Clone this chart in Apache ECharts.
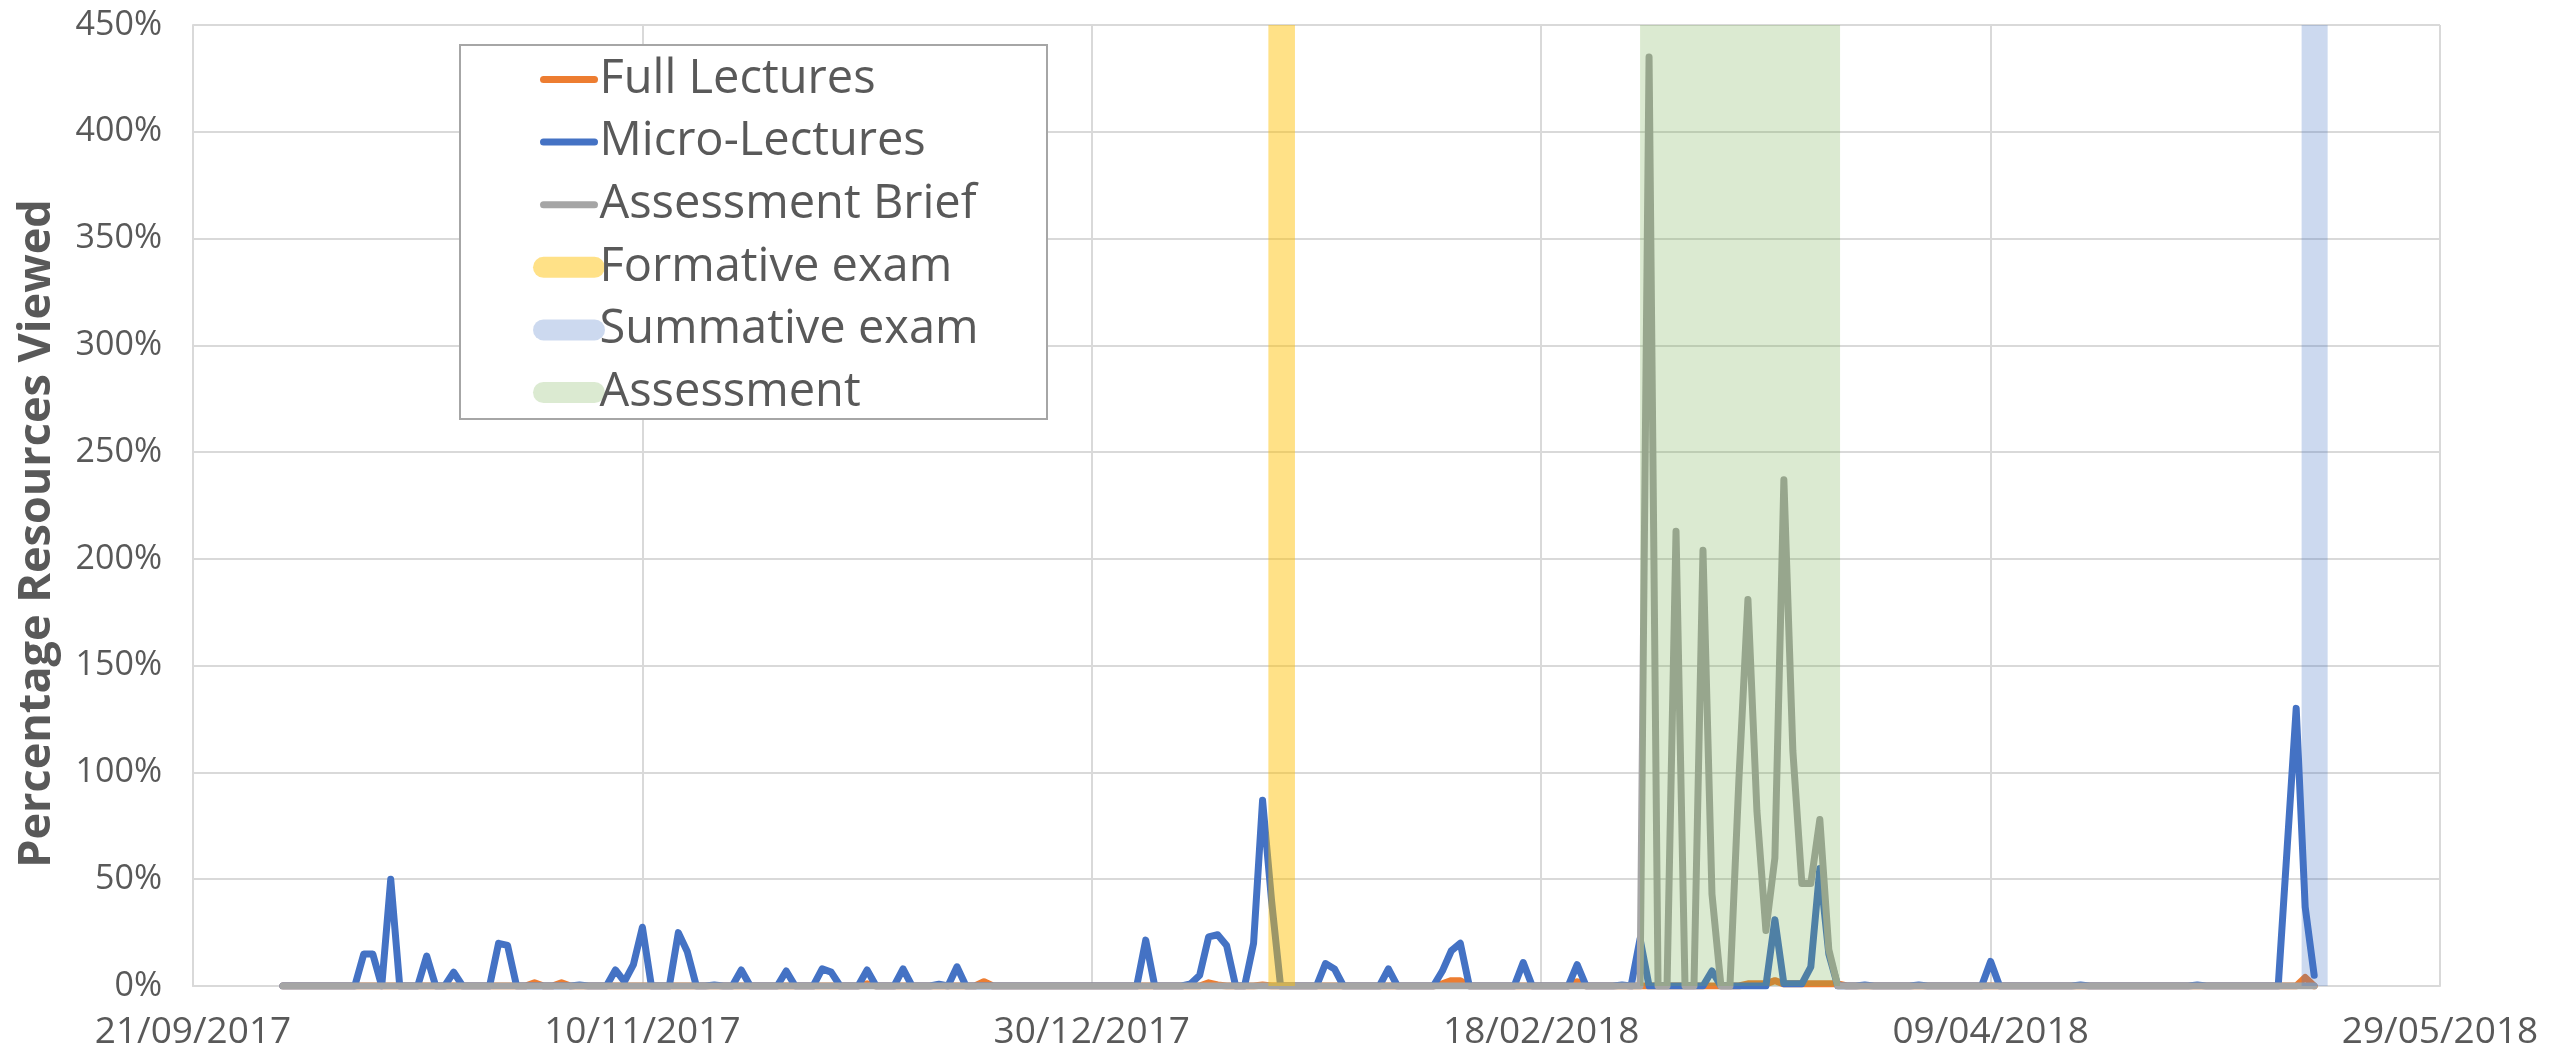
<!DOCTYPE html>
<html>
<head>
<meta charset="utf-8">
<script src="https://cdn.jsdelivr.net/npm/echarts@6.0.0/dist/echarts.min.js"></script>
<style>
  html, body { margin: 0; padding: 0; background: #fff; }
  #main { width: 2571px; height: 1053px; }
</style>
</head>
<body>
<div id="main"></div>
<script>
// axis runs from 21/09/2017, ticks every 50 days
var axisStart = '2017-09-21';
var axisDays = 250;

// Full Lectures (only the turning points, the line sits on 0 in between)
var fullDates = ['2017-10-01','2017-10-28','2017-10-29','2017-10-30','2017-10-31','2017-11-01','2017-11-02',
  '2017-12-04','2017-12-05','2017-12-06','2017-12-17','2017-12-18','2017-12-19',
  '2018-01-11','2018-01-12','2018-01-13','2018-01-14','2018-01-17','2018-01-18','2018-01-19',
  '2018-02-06','2018-02-07','2018-02-08','2018-02-09','2018-02-10','2018-02-21','2018-02-22','2018-02-23',
  '2018-03-12','2018-03-13','2018-03-14','2018-03-15','2018-03-16','2018-03-17','2018-03-18','2018-03-19',
  '2018-03-20','2018-03-21','2018-03-22','2018-03-23','2018-03-24','2018-05-13','2018-05-14','2018-05-15'];
var fullValues = [0,0,1.5,0,0,1.5,0,
  0,1,0,0,2,0,
  0,1.5,0.5,0,0,0.5,0,
  0,1,2.5,2.5,0,0,2,0,
  0,1,1,1,2.5,1,1,1,
  1,1,1,1,0,0,4,0];

// Micro-Lectures
var microDates = ['2017-10-01','2017-10-09','2017-10-10','2017-10-11','2017-10-12','2017-10-13','2017-10-14',
  '2017-10-16','2017-10-17','2017-10-18','2017-10-19','2017-10-20','2017-10-21','2017-10-24','2017-10-25',
  '2017-10-26','2017-10-27','2017-11-02','2017-11-03','2017-11-04','2017-11-06','2017-11-07','2017-11-08',
  '2017-11-09','2017-11-10','2017-11-11','2017-11-13','2017-11-14','2017-11-15','2017-11-16','2017-11-17',
  '2017-11-18','2017-11-19','2017-11-20','2017-11-21','2017-11-22','2017-11-25','2017-11-26','2017-11-27',
  '2017-11-29','2017-11-30','2017-12-01','2017-12-02','2017-12-04','2017-12-05','2017-12-06','2017-12-08',
  '2017-12-09','2017-12-10','2017-12-12','2017-12-13','2017-12-14','2017-12-15','2017-12-16',
  '2018-01-04','2018-01-05','2018-01-06','2018-01-09','2018-01-10','2018-01-11','2018-01-12','2018-01-13',
  '2018-01-14','2018-01-15','2018-01-16','2018-01-17','2018-01-18','2018-01-19','2018-01-20','2018-01-24',
  '2018-01-25','2018-01-26','2018-01-27','2018-01-31','2018-02-01','2018-02-02','2018-02-06','2018-02-07',
  '2018-02-08','2018-02-09','2018-02-10','2018-02-15','2018-02-16','2018-02-17','2018-02-21','2018-02-22',
  '2018-02-23','2018-02-26','2018-02-27','2018-02-28','2018-03-01','2018-03-02','2018-03-08','2018-03-09',
  '2018-03-10','2018-03-15','2018-03-16','2018-03-17','2018-03-18','2018-03-19','2018-03-20','2018-03-21',
  '2018-03-22','2018-03-23','2018-03-25','2018-03-26','2018-03-27','2018-03-31','2018-04-01','2018-04-02',
  '2018-04-08','2018-04-09','2018-04-10','2018-04-18','2018-04-19','2018-04-20','2018-05-01','2018-05-02',
  '2018-05-03','2018-05-11','2018-05-12','2018-05-13','2018-05-14','2018-05-15'];
var microValues = [0,0,15,15,0,50,0,
  0,14,0,0,6.5,0,0,20,
  19,0,0,0.5,0,0,7.5,2,
  10,27.5,0,0,25,16,0,0,
  0.5,0,0,7.5,0,0,7,0,
  0,8,6.5,0,0,7.5,0,0,
  8,0,0,0.8,0,9,0,
  0,21.5,0,0,1,5,23,24,
  19,0,0,20,87,40,0,0,
  10.5,8,0,0,8,0,0,7,
  16.5,20,0,0,11,0,0,10,
  0,0,0.5,0,22,0,0,7,
  0,0,31,1,1,1,9,55,
  15,0,0,0.5,0,0,0.5,0,
  0,11.5,0,0,0.5,0,0,0.5,
  0,0,65,130,37,5];

// Assessment Brief
var briefDates = ['2017-10-01','2018-03-01','2018-03-02','2018-03-03','2018-03-04','2018-03-05','2018-03-06',
  '2018-03-07','2018-03-08','2018-03-09','2018-03-10','2018-03-11','2018-03-12','2018-03-13','2018-03-14',
  '2018-03-15','2018-03-16','2018-03-17','2018-03-18','2018-03-19','2018-03-20','2018-03-21','2018-03-22',
  '2018-03-23','2018-05-15'];
var briefValues = [0,0,435,0,0,213,0,
  0,204,43,0,0,97,181,82,
  26,60,237,110,48,48,78,17,
  0,0];

// shaded periods
var formativeExam = ['2018-01-18 15:30', '2018-01-21 14:30'];
var summativeExam = ['2018-05-13 14:30', '2018-05-16 12:00'];
var assessment = ['2018-03-01 00:00', '2018-03-23 06:00'];

var FONT = "'Open Sans', sans-serif";
var TEXT = '#595959';
var GRID = '#d9d9d9';

var t0 = toUTC(axisStart);
function toUTC(s) {
  var p = s.split(' ');
  var d = p[0].split('-').map(Number);
  var t = p[1] ? p[1].split(':').map(Number) : [0, 0];
  return Date.UTC(d[0], d[1] - 1, d[2], t[0], t[1]);
}
function dayOf(s) { return (toUTC(s) - t0) / 86400000; }
function pairs(dates, values) {
  return dates.map(function (d, i) { return [dayOf(d), values[i]]; });
}
function pad(n) { return n < 10 ? '0' + n : '' + n; }

function dataLine(name, color, dates, values) {
  return {
    name: name, type: 'line', color: color,
    data: pairs(dates, values),
    symbol: 'none', showSymbol: false,
    lineStyle: { width: 7, color: color, cap: 'round', join: 'round' },
    silent: true
  };
}
function band(name, color, period) {
  return {
    name: name, type: 'line', color: color, data: [],
    symbol: 'none',
    lineStyle: { width: 6, color: color },
    markArea: {
      silent: true, z: 10,
      itemStyle: { color: color },
      data: [[{ xAxis: dayOf(period[0]) }, { xAxis: dayOf(period[1]) }]]
    }
  };
}

var chart = echarts.init(document.getElementById('main'));
chart.setOption({
  animation: false,
  backgroundColor: '#fff',
  grid: { left: 193, right: 131, top: 25, bottom: 67 },
  xAxis: {
    type: 'value', min: 0, max: axisDays, interval: 50,
    axisLine: { lineStyle: { color: GRID, width: 2 } },
    axisTick: { show: false },
    splitLine: { lineStyle: { color: GRID, width: 2 } },
    axisLabel: {
      color: TEXT, fontFamily: FONT, fontSize: 37, margin: 28,
      formatter: function (v) {
        var d = new Date(t0 + v * 86400000);
        return pad(d.getUTCDate()) + '/' + pad(d.getUTCMonth() + 1) + '/' + d.getUTCFullYear();
      }
    }
  },
  yAxis: {
    type: 'value', min: 0, max: 450, interval: 50,
    name: 'Percentage Resources Viewed', nameLocation: 'middle', nameGap: 133,
    nameTextStyle: { color: TEXT, fontFamily: FONT, fontSize: 45, fontWeight: 'bold', padding: [0, 56, 0, 0] },
    axisLine: { show: true, lineStyle: { color: GRID, width: 2 } },
    axisTick: { show: false },
    splitLine: { lineStyle: { color: GRID, width: 2 } },
    axisLabel: { color: TEXT, fontFamily: FONT, fontSize: 34, margin: 31, formatter: '{value}%' }
  },
  graphic: [{
    type: 'rect', left: 459, top: 44, z: 3,
    shape: { width: 587, height: 374 },
    style: { fill: '#fff', stroke: '#a6a6a6', lineWidth: 2 }
  }],
  legend: {
    orient: 'vertical', left: 528, top: 51, z: 5,
    itemWidth: 51, itemHeight: 2, itemGap: 15.6,
    selectedMode: false,
    itemStyle: { opacity: 0 },
    textStyle: { color: TEXT, fontFamily: FONT, fontSize: 47, lineHeight: 46 },
    data: [
      { name: 'Full Lectures', lineStyle: { width: 7, cap: 'round' } },
      { name: 'Micro-Lectures', lineStyle: { width: 7, cap: 'round' } },
      { name: 'Assessment Brief', lineStyle: { width: 7, cap: 'round' } },
      { name: 'Formative exam', lineStyle: { width: 21, cap: 'round' } },
      { name: 'Summative exam', lineStyle: { width: 21, cap: 'round' } },
      { name: 'Assessment', lineStyle: { width: 21, cap: 'round' } }
    ]
  },
  series: [
    dataLine('Full Lectures', '#ed7d31', fullDates, fullValues),
    dataLine('Micro-Lectures', '#4472c4', microDates, microValues),
    dataLine('Assessment Brief', '#a5a5a5', briefDates, briefValues),
    band('Formative exam', 'rgba(255,192,0,0.47)', formativeExam),
    band('Summative exam', 'rgba(68,114,196,0.27)', summativeExam),
    band('Assessment', 'rgba(112,173,71,0.25)', assessment)
  ]
});
</script>
</body>
</html>
